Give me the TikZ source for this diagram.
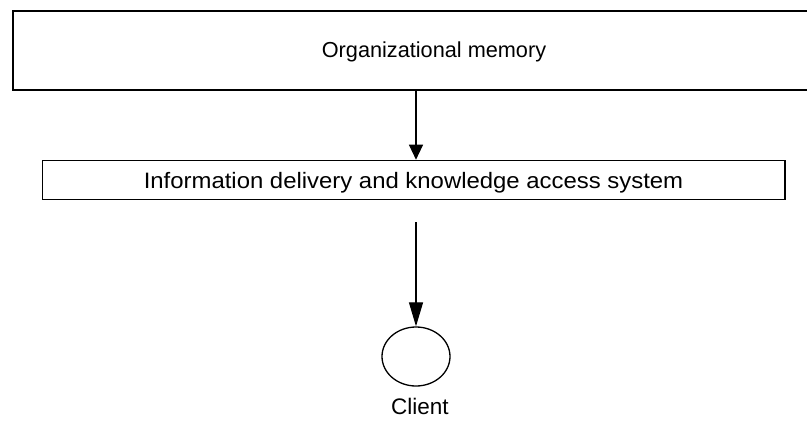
\documentclass[tikz,border=0pt]{standalone}
\usepackage{fontspec}
\setmainfont{Liberation Sans}
\usetikzlibrary{arrows.meta,shapes.geometric}
\begin{document}
\begin{tikzpicture}[x=1pt,y=1pt,
  labeltext/.style={inner sep=0pt, anchor=base},
  boxframe/.style={draw, inner sep=0pt},
  conn/.style={line width=1.2pt}]
\useasboundingbox (0,0) rectangle (807,-429);
\clip (0,0) rectangle (807,-429);
% organizational memory (runs off the right edge)
\node[boxframe, line width=2pt, minimum width=842pt, minimum height=79pt] (memory) at (434,-50.5) {};
\node[labeltext, font=\fontsize{21.7}{26}\selectfont] (memlabel) at (434,-57.5) {Organizational memory};
% delivery / access system
\node[boxframe, line width=1.2pt, minimum width=742.7pt, minimum height=39pt] (delivery) at (413.7,-179.8) {};
\node[labeltext, font=\fontsize{22.3}{26}\selectfont, xscale=1.072, transform shape] (dellabel) at (413.5,-188.7) {Information delivery and knowledge access system};
% client
\coordinate (from) at (416,-222);
\node[draw, ellipse, minimum width=68pt, minimum height=59pt, inner sep=0pt, line width=1.3pt] (client) at (416,-356.5) {};
\node[labeltext, font=\fontsize{22.5}{26}\selectfont] (clientlabel) at (420,-414) {Client};
% connectors
\draw[conn, -{Triangle[length=15pt,width=14pt]}] (client.north |- memory.south) -- (client.north |- delivery.north);
\draw[conn, -{Triangle[length=24pt,width=14pt]}] (from) -- (client.north);
\end{tikzpicture}
\end{document}
